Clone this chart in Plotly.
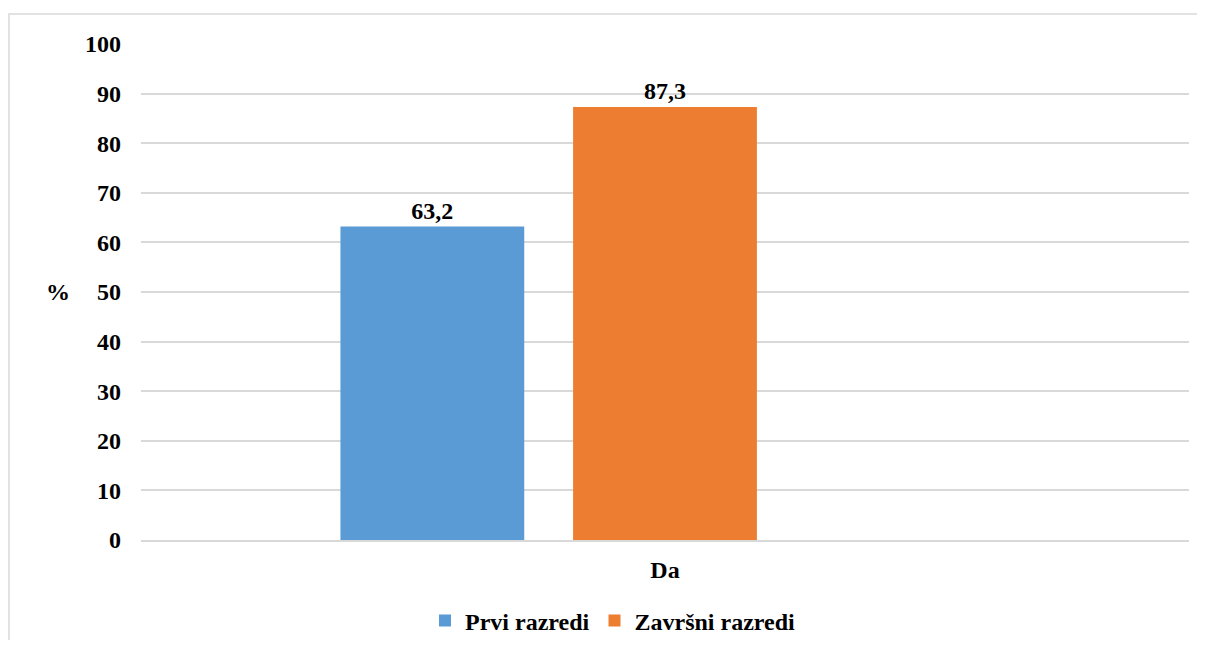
import plotly.graph_objects as go

BLUE   = "#5B9BD5"
ORANGE = "#ED7D31"
GRID   = "#D9D9D9"
DARK   = "#000000"
FONT   = "Liberation Serif"

categories = ["Da"]
prvi = [63.2]
zavrsni = [87.3]
series_names = ["Prvi razredi", "Završni razredi"]

# page has an 8px body margin, so the figure starts at (8, 8)
OFF = 8
W, H = 1189, 632
L, R, T, B = 141 - OFF, 8, 44 - OFF, 100
pw, ph = W - L - R, H - T - B


def fx(page_x):
    return (page_x - OFF - L) / pw


def fy(page_y):
    return (H - B - (page_y - OFF)) / ph


bold = dict(family=FONT, size=24, color=DARK, weight="bold")

fig = go.Figure()
fig.add_bar(x=categories, y=prvi, name=series_names[0], marker_color=BLUE,
            texttemplate="%{y:.1f}", textposition="outside")
fig.add_bar(x=categories, y=zavrsni, name=series_names[1], marker_color=ORANGE,
            texttemplate="%{y:.1f}", textposition="outside")
# empty third slot (the source chart has a blank series)
fig.add_bar(x=categories, y=[None], showlegend=False, hoverinfo="skip",
            marker_color="rgba(0,0,0,0)")

fig.update_traces(textfont=bold, cliponaxis=False, marker_line_width=0)

fig.update_layout(
    width=W, height=H,
    plot_bgcolor="white", paper_bgcolor="white",
    font=bold,
    separators=", ",
    margin=dict(l=L, r=R, t=T, b=B, autoexpand=False),
    barmode="group", bargap=0.334, bargroupgap=0.21,
    showlegend=True,
    legend=dict(orientation="h", x=fx(613), xanchor="center",
                y=fy(621), yanchor="middle", font=bold,
                itemwidth=30, traceorder="normal"),
)

fig.update_yaxes(range=[0, 100], dtick=10, showgrid=True, gridcolor=GRID,
                 gridwidth=1.5, zeroline=False, showline=False,
                 ticklabelstandoff=19, tickfont=bold, fixedrange=True)
fig.update_xaxes(showline=True, linecolor=GRID, linewidth=1.5, showgrid=False,
                 ticks="", ticklabelstandoff=7, tickfont=bold)

fig.add_annotation(text="%", xref="paper", yref="paper",
                   x=fx(58), y=fy(292), xanchor="center", yanchor="middle",
                   showarrow=False, font=bold)

# chart border
fig.add_shape(type="rect", xref="paper", yref="paper",
              x0=fx(9), x1=1.2, y0=-0.5, y1=fy(14),
              line=dict(color=GRID, width=1.5), layer="below")

fig.write_html("out.html")
